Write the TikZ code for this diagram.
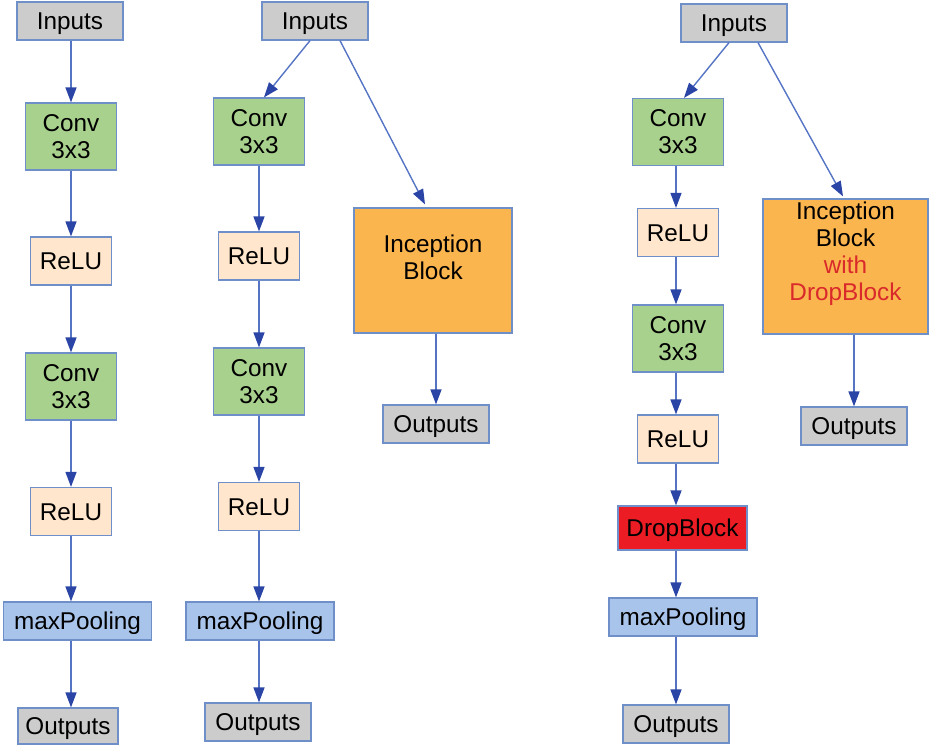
\documentclass[tikz,border=0pt]{standalone}
\usepackage{fontspec}
\setmainfont{Liberation Sans}
\usepackage{tikz}
\usetikzlibrary{arrows.meta}
\definecolor{boxline}{HTML}{6F8FC8}
\definecolor{iogray}{HTML}{CCCCCC}
\definecolor{convgreen}{HTML}{A9D18E}
\definecolor{relupeach}{HTML}{FFE6CC}
\definecolor{poolblue}{HTML}{A9C4EB}
\definecolor{dropred}{HTML}{EC1C24}
\definecolor{incorange}{HTML}{FBB54E}
\definecolor{withred}{HTML}{D9292B}
\definecolor{arrowline}{HTML}{5574C4}
\definecolor{arrowhead}{HTML}{2A45A5}

\begin{document}
\begin{tikzpicture}[x=1pt,y=-1pt,
  box/.style={draw=boxline,line width=1.2pt,inner sep=0pt,align=center,font=\fontsize{24.3}{27}\selectfont},
  oneline/.style={box,text height=17.5pt,text depth=0pt},
  io/.style={oneline,fill=iogray,minimum width=106pt,minimum height=38pt},
  conv/.style={box,fill=convgreen,minimum width=91pt,minimum height=67pt},
  relu/.style={oneline,fill=relupeach,minimum width=81pt,minimum height=48pt},
  pool/.style={oneline,fill=poolblue,minimum width=148pt,minimum height=38pt},
  drop/.style={oneline,fill=dropred,minimum width=129pt,minimum height=44pt},
  incep/.style={box,fill=incorange},
  inctext/.style={box,draw=none},
  flow/.style={draw=arrowline,line width=1.4pt,-{Triangle[length=15pt,width=11pt,color=arrowhead]}}]
\path[use as bounding box] (0,0) rectangle (929,746);
% plain conv block
\node[io]   (in1) at (70,21)    {Inputs};
\node[conv] (c1a) at (71,136.5) {Conv\\3x3};
\node[relu] (r1a) at (71,261)   {ReLU};
\node[conv] (c1b) at (71,386.5) {Conv\\3x3};
\node[relu] (r1b) at (71,511.5) {ReLU};
\node[pool] (mp1) at (77.5,621) {maxPooling};
\node[io,minimum width=100pt,minimum height=36pt] (out1) at (68,726) {Outputs};
\draw[flow] (in1.south -| r1b) -- (c1a);
\draw[flow] (c1a) -- (r1a);
\draw[flow] (r1a) -- (c1b);
\draw[flow] (c1b) -- (r1b);
\draw[flow] (r1b) -- (r1b |- mp1.north);
\draw[flow] (mp1.south -| r1b) -- (out1.north -| r1b);
% conv block next to inception block
\node[io]   (in2) at (315,21)   {Inputs};
\node[conv] (c2a) at (259,131.5) {Conv\\3x3};
\node[relu] (r2a) at (259,256)  {ReLU};
\node[conv] (c2b) at (259,381.5) {Conv\\3x3};
\node[relu] (r2b) at (259,506.5) {ReLU};
\node[pool] (mp2) at (260,621)  {maxPooling};
\node[io]   (out2) at (258,722) {Outputs};
\node[incep,minimum width=158pt,minimum height=125pt] (ib1) at (433,270.5) {};
\node[inctext] (ib1t) at ([yshift=13pt]ib1.center) {Inception\\Block};
\node[io]   (out3) at (436,424) {Outputs};
\draw[flow] ([xshift=-5pt]in2.south) -- ([xshift=5pt]c2a.north);
\draw[flow] ([xshift=25pt]in2.south) -- ([xshift=-8pt,yshift=3pt]ib1.north);
\draw[flow] (c2a) -- (r2a);
\draw[flow] (r2a) -- (c2b);
\draw[flow] (c2b) -- (r2b);
\draw[flow] (r2b) -- (r2b |- mp2.north);
\draw[flow] (mp2.south -| r2b) -- (out2.north -| r2b);
\draw[flow] (ib1.south -| out3) -- (out3);
% with dropblock
\node[io]   (in3) at (734,23)   {Inputs};
\node[conv] (c3a) at (678,132)  {Conv\\3x3};
\node[relu] (r3a) at (678,232.5) {ReLU};
\node[conv] (c3b) at (678,338.5) {Conv\\3x3};
\node[relu] (r3b) at (678,439)  {ReLU};
\node[drop] (db3) at (682.5,528) {DropBlock};
\node[pool] (mp3) at (683,617)  {maxPooling};
\node[io]   (out4) at (676,724) {Outputs};
\node[incep,minimum width=165pt,minimum height=135pt] (ib2) at (845.5,266.5) {};
\node[inctext] (ib2t) at ([yshift=13pt]ib2.center) {Inception\\Block\\\textcolor{withred}{with}\\\textcolor{withred}{DropBlock}};
\node[io]   (out5) at (854,426) {Outputs};
\draw[flow] ([xshift=-5pt]in3.south) -- ([xshift=6pt]c3a.north);
\draw[flow] ([xshift=24pt]in3.south) -- ([xshift=-2.5pt,yshift=2pt]ib2.north);
\draw[flow] (c3a.south -| out4) -- (r3a.north -| out4);
\draw[flow] (r3a.south -| out4) -- (c3b.north -| out4);
\draw[flow] (c3b.south -| out4) -- (r3b.north -| out4);
\draw[flow] (r3b.south -| out4) -- (db3.north -| out4);
\draw[flow] (db3.south -| out4) -- (mp3.north -| out4);
\draw[flow] (mp3.south -| out4) -- (out4);
\draw[flow] (ib2.south -| out5) -- (out5);
\end{tikzpicture}
\end{document}
